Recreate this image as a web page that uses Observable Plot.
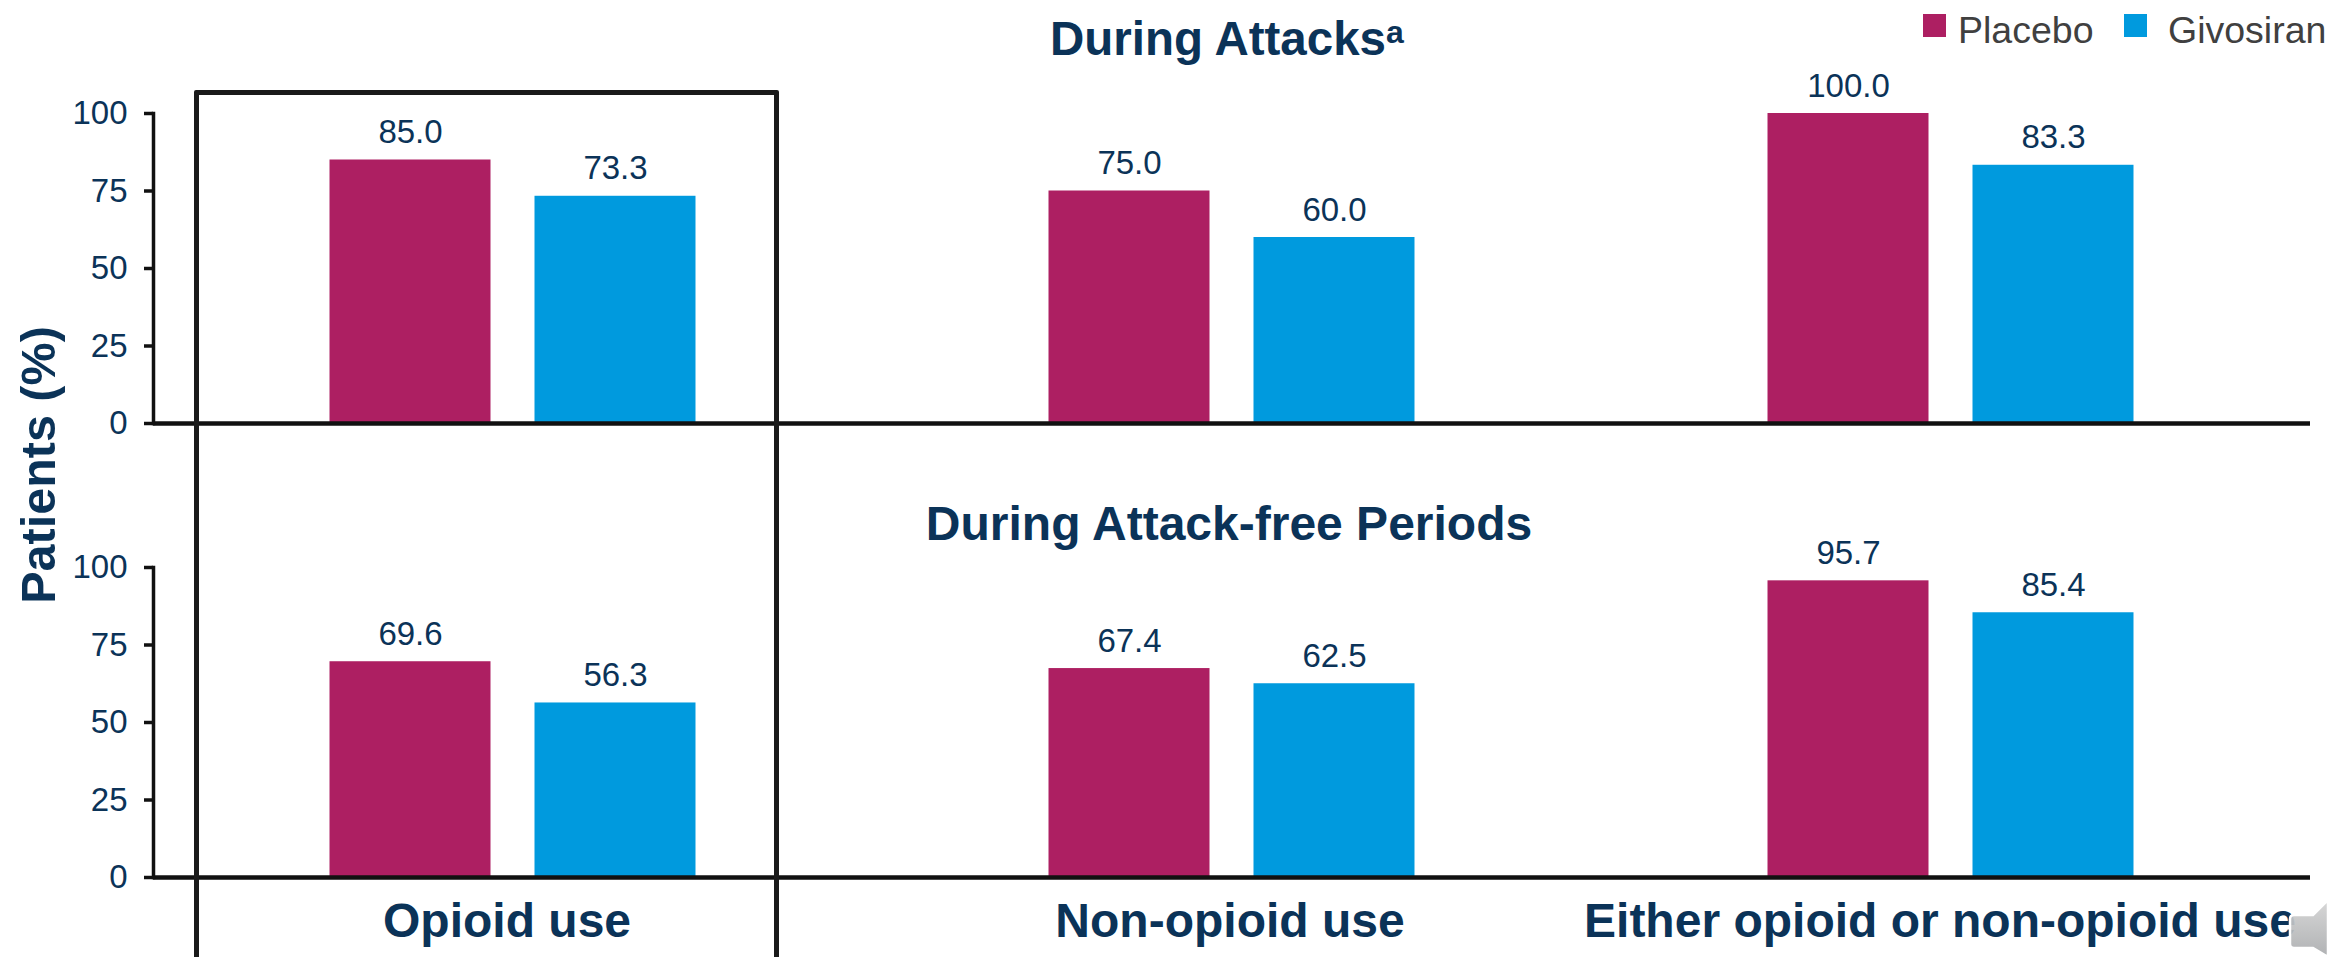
<!DOCTYPE html>
<html>
<head>
<meta charset="utf-8">
<script src="https://cdn.jsdelivr.net/npm/d3@7"></script>
<script src="https://cdn.jsdelivr.net/npm/@observablehq/plot@0.6"></script>
<style>
  html, body { margin: 0; padding: 0; background: #fff; width: 2328px; height: 957px; overflow: hidden; }
  #page { position: relative; width: 2328px; height: 957px; font-family: "Liberation Sans", Arial, sans-serif; overflow: hidden; }
  #page svg { display: block; }
  .legend-box { position: absolute; width: 23px; height: 23px; top: 14px; }
  .legend-text { position: absolute; top: 9px; font-size: 37.5px; line-height: 42px; color: #404040; white-space: nowrap; }
  #highlight { position: absolute; left: 194px; top: 90px; width: 584.5px; height: 900px; border: 5px solid #1a1a1a; border-radius: 2px; box-sizing: border-box; pointer-events: none; }
  #ylabel { position: absolute; left: 38px; top: 465px; transform: translate(-50%, -50%) rotate(-90deg); font-size: 48.5px; font-weight: 700; color: #0b3358; white-space: nowrap; }
  #speaker { position: absolute; left: 2280px; top: 890px; }
</style>
</head>
<body>
<div id="page"></div>
<script>
const categories = ["Opioid use", "Non-opioid use", "Either opioid or non-opioid use"];
const periods = ["During Attacks", "During Attack-free Periods"];
const treatments = ["Placebo", "Givosiran"];
const placeboAttacks = [85.0, 75.0, 100.0];
const givosiranAttacks = [73.3, 60.0, 83.3];
const placeboFree = [69.6, 67.4, 95.7];
const givosiranFree = [56.3, 62.5, 85.4];
const yTicks = [0, 25, 50, 75, 100];
const colors = ["#AD1F62", "#009ADE"];
const navy = "#0b3358";
const labelNudges = [-6, -2, -11];

const seriesByPeriod = [[placeboAttacks, givosiranAttacks], [placeboFree, givosiranFree]];
const rows = [];
periods.forEach((period, p) => treatments.forEach((treatment, t) => categories.forEach((category, c) => {
  rows.push({period, treatment, category, value: seriesByPeriod[p][t][c]});
})));

const chart = Plot.plot({
  width: 2328,
  height: 957,
  marginLeft: 153,
  marginRight: 18,
  marginTop: 113,
  marginBottom: 80,
  style: {background: "#fff", fontFamily: '"Liberation Sans", Arial, sans-serif', overflow: "visible"},
  fx: {domain: categories, padding: 0, round: false, axis: null},
  fy: {domain: periods, paddingInner: 144 / 454, paddingOuter: 0, round: false, axis: null},
  x: {domain: treatments, paddingInner: 44 / 205, paddingOuter: 0.861, round: false, axis: null},
  y: {domain: [0, 100], axis: null},
  color: {domain: treatments, range: colors},
  marks: [
    Plot.barY(rows, {fx: "category", fy: "period", x: "treatment", y: "value", fill: "treatment"}),
    Plot.text(rows, {
      fx: "category", fy: "period", x: "treatment", y: "value",
      text: d => d.value.toFixed(1), lineAnchor: "bottom", dy: -17,
      fontSize: 33, fill: navy
    }),
    Plot.ruleY([0], {stroke: "#111", strokeWidth: 4.5}),
    Plot.frame({anchor: "left", facetAnchor: "left", stroke: "#111", strokeWidth: 3.5}),
    Plot.axisY({
      ticks: yTicks, anchor: "left", label: null, tickSize: 9, tickPadding: 17,
      stroke: "#111", strokeWidth: 3.5, fill: navy, fontSize: 33
    }),
    ...categories.map((category, i) => Plot.axisFx({
      ticks: [category], anchor: "bottom", label: null, tickSize: 0, tickPadding: 25, dx: labelNudges[i],
      fontSize: 48, fontWeight: 700, fill: navy
    })),
    // Panel titles, sitting above each panel in the middle column
    Plot.text(periods, {
      fy: d => d, fx: () => categories[1], frameAnchor: "top", text: d => d,
      lineAnchor: "bottom", fontSize: 48, fontWeight: 700, fill: navy,
      filter: d => d === periods[1], dy: -28, dx: -3
    }),
    Plot.text(periods, {
      fy: d => d, fx: () => categories[1], frameAnchor: "top", text: d => d,
      lineAnchor: "bottom", fontSize: 47.5, fontWeight: 700, fill: navy,
      filter: d => d === periods[0], dy: -59, dx: -14
    }),
    Plot.text(["a"], {
      fy: () => periods[0], fx: () => categories[1], frameAnchor: "top", text: d => d,
      lineAnchor: "bottom", textAnchor: "start",
      fontSize: 32, fontWeight: 700, fill: navy,
      dy: -71, dx: 154
    })
  ]
});

const page = document.getElementById("page");
page.appendChild(chart);

const legendHtml = `
  <div class="legend-box" style="left:1923px;background:${colors[0]}"></div>
  <div class="legend-text" style="left:1958px">${treatments[0]}</div>
  <div class="legend-box" style="left:2124px;background:${colors[1]}"></div>
  <div class="legend-text" style="left:2168px">${treatments[1]}</div>
  <div id="highlight"></div>
  <div id="ylabel">Patients (%)</div>
  <svg id="speaker" width="48" height="67" viewBox="0 0 48 67" aria-hidden="true">
    <defs><linearGradient id="spk" x1="0" y1="0" x2="0" y2="1">
      <stop offset="0" stop-color="#d4d4d4"/><stop offset="1" stop-color="#a9abad"/></linearGradient></defs>
    <path d="M14 25 L33 25 L48 10 L48 67 L33 58 L14 58 Q10 58 10 54 L10 29 Q10 25 14 25 Z" fill="url(#spk)" fill-opacity="0.92" stroke="#fff" stroke-width="2.5"/>
  </svg>`;
page.insertAdjacentHTML("beforeend", legendHtml);
</script>
</body>
</html>
